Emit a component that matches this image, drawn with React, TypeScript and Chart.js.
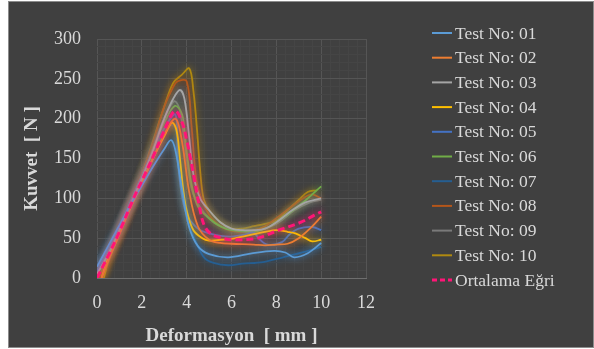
import React, { useEffect, useRef } from 'react';
import { Chart, registerables } from 'chart.js';

Chart.register(...registerables);

const SERIF = "'Liberation Serif', 'Times New Roman', 'DejaVu Serif', serif";
const TEXT = '#d9d9d9';

const seriesNames = [
  'Test No: 01', 'Test No: 02', 'Test No: 03', 'Test No: 04', 'Test No: 05',
  'Test No: 06', 'Test No: 07', 'Test No: 08', 'Test No: 09', 'Test No: 10', 'Ortalama Eğri',
];
const seriesColors = [
  '#5B9BD5', '#ED7D31', '#A5A5A5', '#FFC000', '#4472C4',
  '#70AD47', '#255E91', '#B5561A', '#7A7A7A', '#B08A10', '#FF1577',
];

const test01: [number, number][] = [[0,14],[0.5,40],[1,66],[1.5,92],[2,116],[2.5,140],[3,162],[3.3,173],[3.5,160],[3.8,110],[4.1,65],[4.5,40],[5,30],[5.85,26],[6.9,31],[7.9,34],[8.4,32],[8.8,26],[9.4,31],[10,44]];
const test02: [number, number][] = [[0.2,0],[0.5,22],[1,55],[1.5,88],[2,118],[2.5,150],[3,180],[3.5,200],[3.8,170],[4.1,110],[4.5,65],[5,48],[5.5,44],[6,43],[7,42],[7.5,41],[8,42],[8.5,43],[9,50],[9.5,62],[10,77]];
const test03: [number, number][] = [[0,5],[0.5,30],[1,60],[1.5,92],[2,125],[2.5,160],[3,200],[3.4,225],[3.7,236],[3.9,225],[4.1,180],[4.3,130],[4.6,100],[5,85],[5.5,70],[6,62],[6.5,60],[7,60],[7.5,62],[8,70],[8.7,85],[9.3,95],[10,100]];
const test04: [number, number][] = [[0.2,0],[0.5,25],[1,58],[1.5,90],[2,120],[2.5,150],[3,178],[3.35,195],[3.55,185],[3.7,150],[3.85,110],[4,85],[4.3,60],[4.7,50],[5,47],[5.5,48],[6,49],[6.5,52],[7,55],[7.5,58],[8,60],[8.5,58],[8.85,56],[9.3,50],[9.6,46],[10,48]];
const test05: [number, number][] = [[0,8],[0.5,35],[1,62],[1.5,95],[2,128],[2.5,160],[3,188],[3.5,205],[3.6,150],[3.75,110],[4,80],[4.5,62],[5,56],[5.5,53],[6,52],[6.5,54],[7,57],[7.2,50],[7.6,42],[8.25,45],[8.6,55],[9,62],[9.6,64],[10,60]];
const test06: [number, number][] = [[0,5],[0.5,30],[1,60],[1.5,95],[2,128],[2.5,162],[3,195],[3.48,216],[3.8,205],[3.95,170],[4.2,120],[4.5,90],[5,75],[5.5,65],[6,60],[7,58],[7.5,62],[7.8,66],[8.5,80],[9.2,95],[9.6,105],[10,115]];
const test07: [number, number][] = [[0,15],[0.5,40],[1,68],[1.5,98],[2,128],[2.5,158],[3,182],[3.4,192],[3.6,170],[3.8,120],[4.1,70],[4.5,40],[4.8,25],[5.2,19],[5.85,16],[6.5,18],[7.4,20],[8.3,26],[9.3,33],[10,39]];
const test08: [number, number][] = [[0.1,0],[0.5,28],[1,60],[1.5,95],[2,130],[2.5,170],[3,215],[3.4,240],[3.6,247],[4,247],[4.22,190],[4.45,120],[4.8,90],[5.2,72],[5.7,62],[6.3,58],[7,60],[7.5,65],[8,75],[8.7,90],[9.3,102],[9.6,105],[10,100]];
const test09: [number, number][] = [[0,10],[0.5,36],[1,64],[1.5,96],[2,128],[2.5,165],[3,200],[3.45,222],[3.7,210],[4,150],[4.3,105],[5,75],[5.8,62],[7,60],[8,68],[8.8,85],[9.5,95],[10,98]];
const test10: [number, number][] = [[0.3,0],[0.5,20],[1,55],[1.5,92],[2,130],[2.5,172],[3,215],[3.4,245],[3.78,255],[4.12,263],[4.3,235],[4.45,190],[4.6,135],[4.75,100],[5,85],[5.5,70],[6,62],[6.5,62],[7,65],[7.5,68],[8,72],[8.5,85],[9,98],[9.4,108],[9.8,110]];
const average: [number, number][] = [[0,0],[0.5,28],[1,58],[1.6,98],[2,122],[2.5,152],[3,185],[3.48,210],[3.8,195],[4,173],[4.3,131],[4.6,85],[4.8,65],[5.1,55],[5.6,50],[6,48],[7,49],[7.4,52],[8.1,60],[9.1,70],[9.7,79],[10,83]];

const seriesData = [test01, test02, test03, test04, test05, test06, test07, test08, test09, test10, average];

const xRange = [0, 12];
const yRange = [0, 300];
const xMajor = 2;
const yMajor = 50;
const xMinor = 0.4;
const yMinor = 10;

const isMultiple = (v: number, m: number) => Math.abs(v / m - Math.round(v / m)) < 1e-6;

const glowPlugin = {
  id: 'glow',
  beforeDatasetDraw(chart: any, args: any) {
    const ds = chart.data.datasets[args.index];
    chart.ctx.save();
    chart.ctx.shadowColor = ds.borderColor;
    chart.ctx.shadowBlur = 7;
  },
  afterDatasetDraw(chart: any) {
    chart.ctx.restore();
  },
};

const legendPlugin = {
  id: 'sideLegend',
  afterDraw(chart: any) {
    const ctx = chart.ctx;
    const top = 31;
    const step = 24.7;
    ctx.save();
    ctx.font = `17.5px ${SERIF}`;
    ctx.textBaseline = 'middle';
    ctx.textAlign = 'left';
    chart.data.datasets.forEach((ds: any, i: number) => {
      const y = top + i * step;
      const dashed = !!ds.borderDash;
      ctx.strokeStyle = ds.borderColor;
      ctx.lineWidth = dashed ? 3 : 2;
      ctx.setLineDash(dashed ? [5, 3] : []);
      ctx.beginPath();
      ctx.moveTo(423, y);
      ctx.lineTo(443, y);
      ctx.stroke();
      ctx.setLineDash([]);
      ctx.fillStyle = TEXT;
      ctx.fillText(ds.label, 446, y + 1);
    });
    ctx.restore();
  },
};

export default function App() {
  const ref = useRef<HTMLCanvasElement>(null);

  useEffect(() => {
    document.body.style.margin = '0';
    document.body.style.background = '#ffffff';
    if (!ref.current) return;
    const datasets = seriesData.map((pts, i) => {
      const isAvg = i === seriesData.length - 1;
      return {
        label: seriesNames[i],
        data: pts.map(([x, y]) => ({ x, y })),
        borderColor: seriesColors[i],
        backgroundColor: seriesColors[i],
        borderWidth: isAvg ? 3 : 1.8,
        borderDash: isAvg ? [7, 4] : undefined,
        pointRadius: 0,
        tension: 0.35,
        fill: false,
        order: isAvg ? -1 : i,
      };
    });
    const chart = new Chart(ref.current, {
      type: 'line',
      data: { datasets },
      plugins: [glowPlugin, legendPlugin],
      options: {
        responsive: false,
        animation: false,
        devicePixelRatio: 1,
        layout: { padding: { left: 0, top: 37, right: 227, bottom: 0 } },
        plugins: { legend: { display: false }, tooltip: { enabled: false } },
        scales: {
          x: {
            type: 'linear',
            min: xRange[0],
            max: xRange[1],
            afterFit: (s: any) => { s.height = 69; },
            ticks: {
              stepSize: xMinor,
              autoSkip: false,
              maxRotation: 0,
              padding: 14,
              color: TEXT,
              font: { family: SERIF, size: 18 },
              callback: (v: any) => (isMultiple(Number(v), xMajor) ? String(Math.round(Number(v))) : ''),
            },
            grid: {
              drawTicks: false,
              color: (c: any) => (isMultiple(c.tick.value, xMajor) ? '#555555' : '#454545'),
            },
            border: { display: true, color: '#6e6e6e' },
            title: {
              display: true,
              text: 'Deformasyon  [ mm ]',
              color: TEXT,
              font: { family: SERIF, size: 19, weight: 'bold' },
              padding: { top: 7, bottom: 0 },
            },
          },
          y: {
            type: 'linear',
            min: yRange[0],
            max: yRange[1],
            afterFit: (s: any) => { s.width = 88; },
            ticks: {
              stepSize: yMinor,
              autoSkip: false,
              padding: 16,
              color: TEXT,
              font: { family: SERIF, size: 18 },
              callback: (v: any) => (isMultiple(Number(v), yMajor) ? String(Math.round(Number(v))) : ''),
            },
            grid: {
              drawTicks: false,
              color: (c: any) => (isMultiple(c.tick.value, yMajor) ? '#555555' : '#454545'),
            },
            border: { display: false },
            title: {
              display: true,
              text: 'Kuvvet  [ N ]',
              color: TEXT,
              font: { family: SERIF, size: 19, weight: 'bold' },
              padding: { top: 12, bottom: 0 },
            },
          },
        },
      } as any,
    });
    return () => chart.destroy();
  }, []);

  return (
    <div
      style={{
        position: 'absolute',
        left: 8,
        top: 1,
        width: 584,
        height: 345,
        border: '1px solid #8c8c8c',
        background: '#404040',
      }}
    >
      <canvas ref={ref} width={584} height={345} style={{ display: 'block' }} />
    </div>
  );
}
